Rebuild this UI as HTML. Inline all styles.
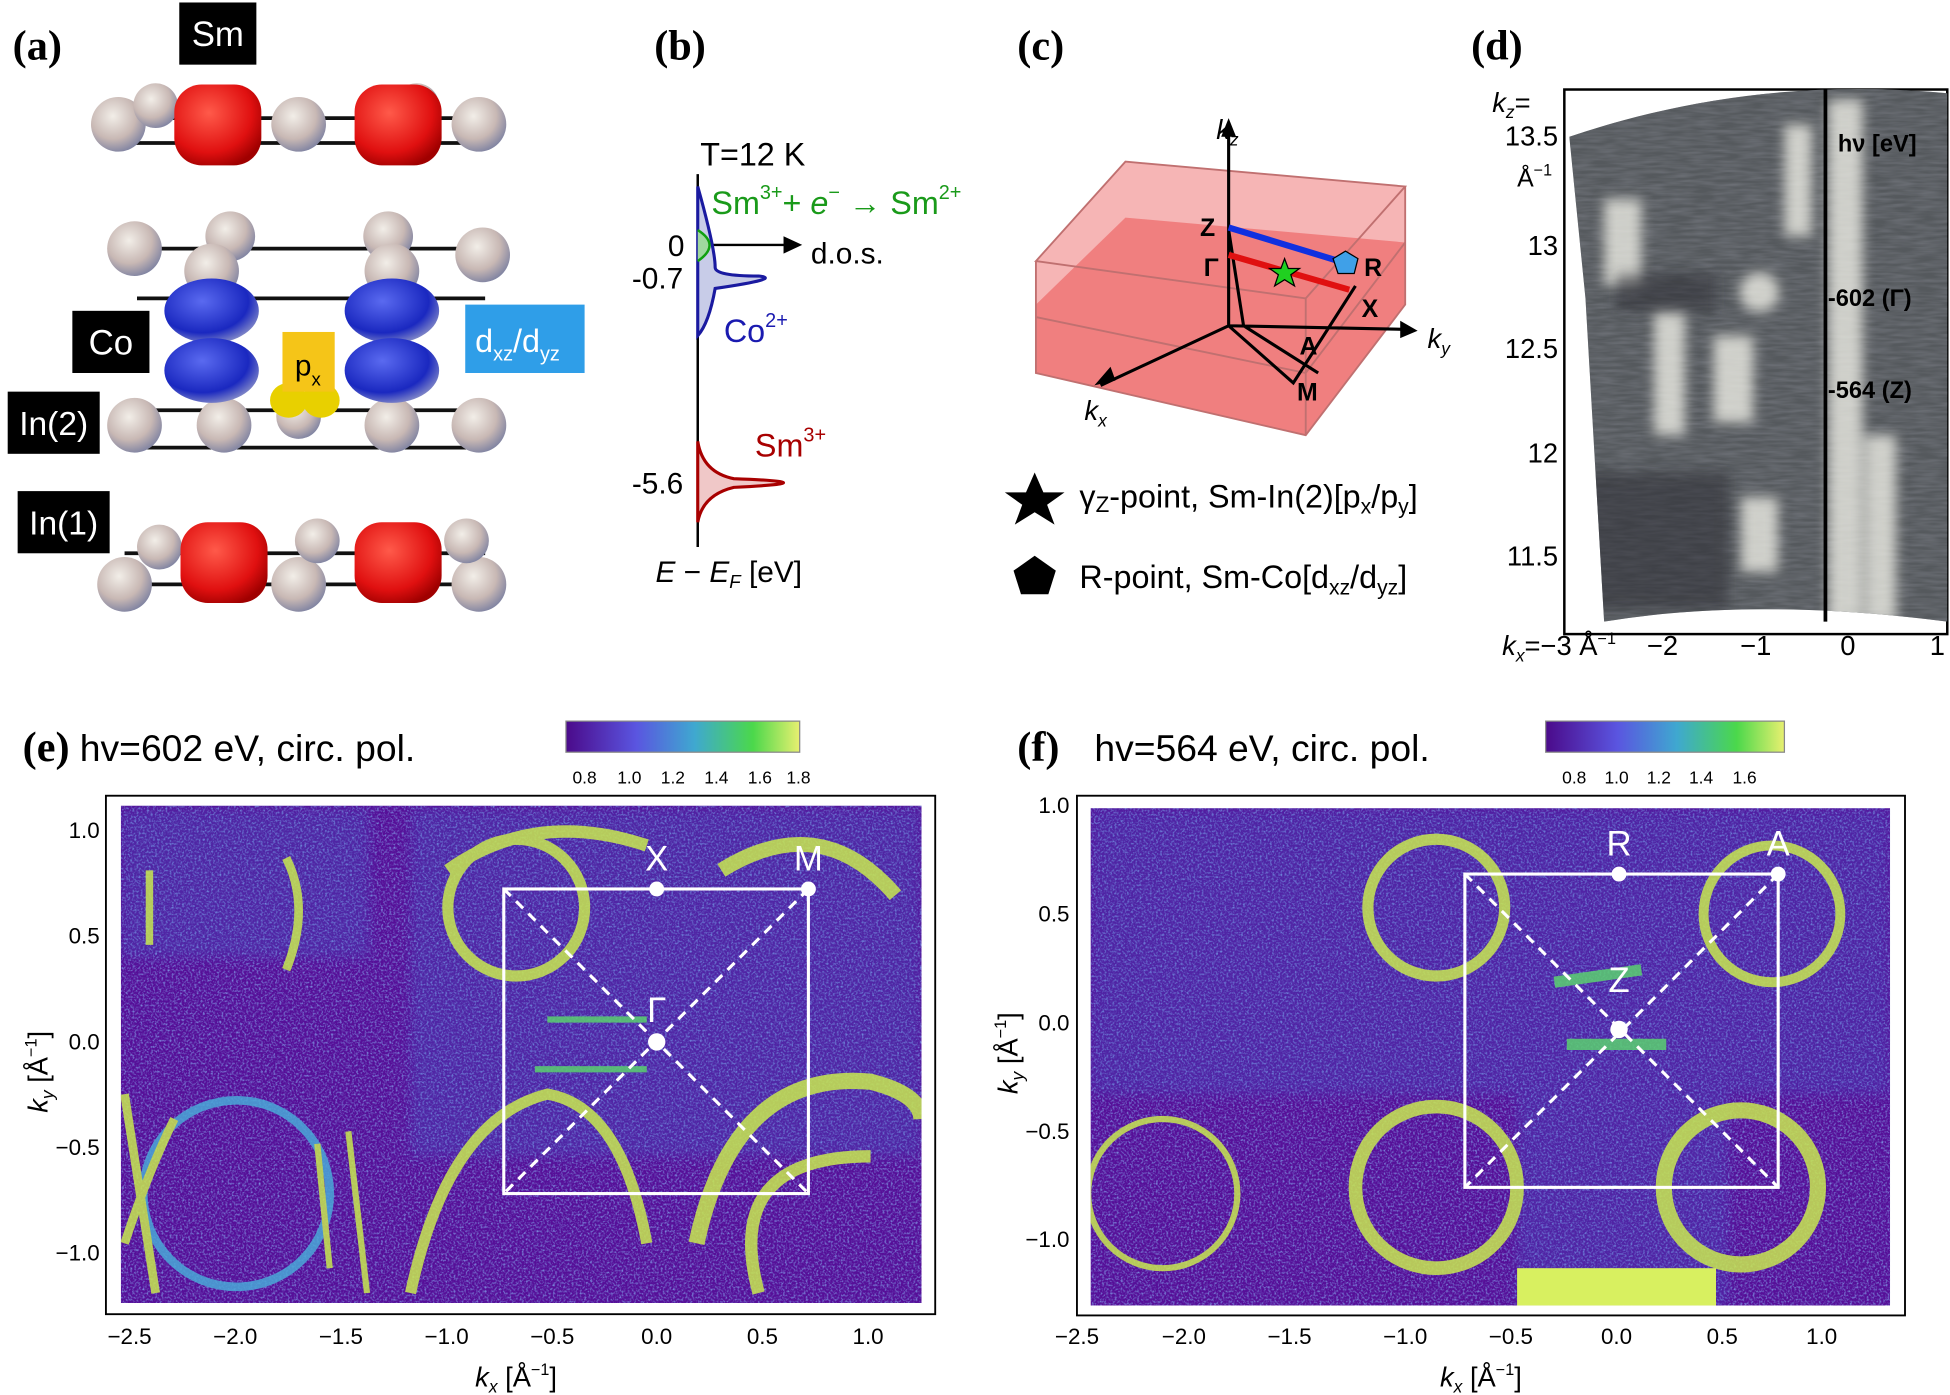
<!DOCTYPE html>
<html><head><meta charset="utf-8"><style>
html,body{margin:0;padding:0;background:#fff}
svg{display:block}
text{font-family:"Liberation Sans",sans-serif}
</style></head><body>
<svg width="1950" height="1395" viewBox="0 0 1568 1122" xmlns="http://www.w3.org/2000/svg">
<defs>
<filter id="noise" x="0" y="0" width="100%" height="100%">
<feTurbulence type="fractalNoise" baseFrequency="0.6" numOctaves="2" seed="3"/>
<feColorMatrix values="0 0 0 0 0.25  0 0 0 0 0.45  0 0 0 0 0.9  0 0 0 1.8 -0.8"/>
</filter>
<filter id="blur" x="-20%" y="-20%" width="140%" height="140%"><feGaussianBlur stdDeviation="5"/></filter>
<filter id="gnoise" x="0" y="0" width="100%" height="100%">
<feTurbulence type="fractalNoise" baseFrequency="0.05 0.4" numOctaves="2" seed="7"/>
<feColorMatrix values="0 0 0 0 0.15 0 0 0 0 0.16 0 0 0 0 0.18 0 0 0 1.6 -0.45"/>
</filter>
<clipPath id="dclip"><path d="M1262 110 Q1410 60 1566 75 L1566 500 Q1410 480 1290 500 L1275 240Z"/></clipPath>
<linearGradient id="cb" x1="0" x2="1"><stop offset="0" stop-color="#4b0a8a"/><stop offset=".3" stop-color="#5a55e0"/><stop offset=".55" stop-color="#3fa8d0"/><stop offset=".8" stop-color="#4bd84b"/><stop offset="1" stop-color="#e8f070"/></linearGradient>
<radialGradient id="ball" cx=".4" cy=".35" r=".7"><stop offset="0" stop-color="#f2eee8"/><stop offset=".6" stop-color="#c8b8b4"/><stop offset="1" stop-color="#7a7fa0"/></radialGradient>
<radialGradient id="red" cx=".4" cy=".35" r=".7"><stop offset="0" stop-color="#ff5a4a"/><stop offset=".7" stop-color="#e01010"/><stop offset="1" stop-color="#a00000"/></radialGradient>
<radialGradient id="blue" cx=".4" cy=".35" r=".7"><stop offset="0" stop-color="#5a6af0"/><stop offset=".7" stop-color="#1a28c0"/><stop offset="1" stop-color="#8a90c8"/></radialGradient>
</defs>

<g font-size="34" font-weight="bold">
<text x="10" y="48" style="font-family:'Liberation Serif'">(a)</text>
<text x="526" y="48" style="font-family:'Liberation Serif'">(b)</text>
<text x="818" y="48" style="font-family:'Liberation Serif'">(c)</text>
<text x="1183" y="48" style="font-family:'Liberation Serif'">(d)</text>
<text x="18" y="612" style="font-family:'Liberation Serif'">(e)</text>
<text x="818" y="612" style="font-family:'Liberation Serif'">(f)</text>
</g>

<!-- (a) -->
<g stroke="#111" stroke-width="3" fill="none">
<path d="M95 95 L395 95 M95 115 L395 115"/>
<path d="M110 200 L390 200 M110 240 L390 240 M110 330 L390 330 M110 360 L390 360 M100 445 L390 445 M110 470 L390 470"/>
</g>
<g fill="url(#ball)">
<circle cx="95" cy="100" r="22"/><circle cx="385" cy="100" r="22"/><circle cx="240" cy="100" r="22"/><circle cx="125" cy="85" r="18"/><circle cx="335" cy="85" r="18"/>
<circle cx="108" cy="200" r="22"/><circle cx="185" cy="190" r="20"/><circle cx="312" cy="190" r="20"/><circle cx="388" cy="205" r="22"/><circle cx="170" cy="218" r="22"/><circle cx="315" cy="218" r="22"/>
<circle cx="108" cy="342" r="22"/><circle cx="180" cy="342" r="22"/><circle cx="315" cy="342" r="22"/><circle cx="385" cy="342" r="22"/><circle cx="240" cy="335" r="18"/>
<circle cx="100" cy="470" r="22"/><circle cx="240" cy="470" r="22"/><circle cx="385" cy="470" r="22"/><circle cx="128" cy="440" r="18"/><circle cx="255" cy="435" r="18"/><circle cx="375" cy="435" r="18"/>
</g>
<g fill="url(#red)">
<rect x="140" y="68" width="70" height="65" rx="22"/><rect x="285" y="68" width="70" height="65" rx="22"/>
<rect x="145" y="420" width="70" height="65" rx="22"/><rect x="285" y="420" width="70" height="65" rx="22"/>
</g>
<g fill="url(#blue)">
<ellipse cx="170" cy="250" rx="38" ry="26"/><ellipse cx="170" cy="298" rx="38" ry="26"/>
<ellipse cx="315" cy="250" rx="38" ry="26"/><ellipse cx="315" cy="298" rx="38" ry="26"/>
</g>
<ellipse cx="232" cy="322" rx="15" ry="14" fill="#e8d000"/><ellipse cx="258" cy="322" rx="15" ry="14" fill="#e8d000"/>
<rect x="144" y="2" width="62" height="50" fill="#000"/><text x="175" y="37" fill="#fff" font-size="28" text-anchor="middle">Sm</text>
<rect x="58" y="250" width="62" height="50" fill="#000"/><text x="89" y="285" fill="#fff" font-size="28" text-anchor="middle">Co</text>
<rect x="6" y="315" width="74" height="50" fill="#000"/><text x="43" y="350" fill="#fff" font-size="27" text-anchor="middle">In(2)</text>
<rect x="14" y="395" width="74" height="50" fill="#000"/><text x="51" y="430" fill="#fff" font-size="27" text-anchor="middle">In(1)</text>
<rect x="227" y="267" width="42" height="48" fill="#f5c518"/><text x="237" y="302" font-size="24">p<tspan font-size="15" dy="8">x</tspan></text>
<rect x="374" y="245" width="96" height="55" fill="#2f9ee8"/><text x="382" y="283" fill="#fff" font-size="26">d<tspan font-size="16" dy="7">xz</tspan><tspan dy="-7">/d</tspan><tspan font-size="16" dy="7">yz</tspan></text>

<!-- (b) -->
<text x="563" y="133" font-size="26">T=12 K</text>
<line x1="561" y1="140" x2="561" y2="440" stroke="#000" stroke-width="2"/>
<line x1="561" y1="197" x2="635" y2="197" stroke="#000" stroke-width="2"/><path d="M645 197 L630 190 L630 204Z"/>
<path d="M561 150 Q575 200 575 215 Q575 222 610 222 Q630 224 575 232 Q570 260 561 270Z" fill="#c8cce8" stroke="#1a1aa0" stroke-width="2.5"/>
<path d="M561 185 Q580 197 561 210" fill="#9fd89f" stroke="#10a010" stroke-width="2"/>
<path d="M561 355 Q565 380 590 385 Q670 388 590 392 Q565 398 561 420Z" fill="#f0c8c8" stroke="#a80000" stroke-width="2.5"/>
<text x="572" y="172" font-size="26" fill="#1a9a1a">Sm<tspan font-size="16" dy="-12">3+</tspan><tspan dy="12">+ </tspan><tspan font-style="italic">e</tspan><tspan font-size="16" dy="-12">−</tspan><tspan dy="12"> → Sm</tspan><tspan font-size="16" dy="-12">2+</tspan></text>
<text x="537" y="206" font-size="24">0</text><text x="508" y="232" font-size="24">-0.7</text>
<text x="652" y="212" font-size="24">d.o.s.</text>
<text x="582" y="275" font-size="26" fill="#1a1ab0">Co<tspan font-size="16" dy="-12">2+</tspan></text>
<text x="607" y="367" font-size="26" fill="#a80000">Sm<tspan font-size="16" dy="-12">3+</tspan></text>
<text x="508" y="397" font-size="24">-5.6</text>
<text x="527" y="468" font-size="24"><tspan font-style="italic">E</tspan> − <tspan font-style="italic">E<tspan font-size="15" dy="5">F</tspan></tspan><tspan dy="-5"> [eV]</tspan></text>

<!-- (c) -->
<path d="M833 210 L905 130 L1130 150 L1130 245 L1050 350 L833 300Z" fill="#f5a8a8" opacity=".85"/>
<path d="M833 245 L905 175 L1130 195 L1130 245 L1050 350 L833 300Z" fill="#ee6868" opacity=".7"/>
<g stroke="#c07070" stroke-width="1.5" fill="none"><path d="M833 210 L905 130 L1130 150 L1050 240 L833 210Z M1050 240 L1050 350 M833 210 L833 300 L1050 350 L1130 245 L1130 150 M833 255 L1050 300 L1130 195"/></g>
<g stroke="#000" stroke-width="2.5" fill="none"><path d="M988 100 L988 262 M988 262 L1135 265 M988 262 L885 310 M988 185 L1000 262 L1060 300 L1000 262 M988 262 L1040 308 L1090 230"/></g>
<path d="M880 310 L893 295 L897 306Z M1140 266 L1126 258 L1126 272Z M988 95 L982 110 L994 110Z"/>
<line x1="988" y1="183" x2="1080" y2="211" stroke="#1030e0" stroke-width="5"/>
<line x1="988" y1="205" x2="1085" y2="233" stroke="#e01010" stroke-width="5"/>
<polygon points="1033,208 1036,216 1045,216 1038,221 1041,230 1033,225 1025,230 1028,221 1021,216 1030,216" fill="#20d020" stroke="#000"/>
<polygon points="1082,202 1092,208 1089,220 1076,220 1072,208" fill="#3fa0e8" stroke="#000"/>
<g font-size="20" font-weight="bold"><text x="965" y="190">Z</text><text x="968" y="222">Γ</text><text x="1097" y="222">R</text><text x="1095" y="255">X</text><text x="1045" y="285">A</text><text x="1043" y="322">M</text></g>
<text x="978" y="112" font-size="22" font-style="italic">k<tspan font-size="14" dy="5">z</tspan></text>
<text x="1148" y="280" font-size="22" font-style="italic">k<tspan font-size="14" dy="5">y</tspan></text>
<text x="872" y="338" font-size="22" font-style="italic">k<tspan font-size="14" dy="5">x</tspan></text>
<polygon points="832,380 839,396 856,396 842,406 848,422 832,412 816,422 822,406 808,396 825,396"/>
<text x="868" y="408" font-size="26">γ<tspan font-size="18" dy="4">Z</tspan><tspan dy="-4">-point, Sm-In(2)[p</tspan><tspan font-size="17" dy="5">x</tspan><tspan dy="-5">/p</tspan><tspan font-size="17" dy="5">y</tspan><tspan dy="-5">]</tspan></text>
<polygon points="832,447 849,459 843,478 821,478 815,459"/>
<text x="868" y="473" font-size="26">R-point, Sm-Co[d<tspan font-size="17" dy="5">xz</tspan><tspan dy="-5">/d</tspan><tspan font-size="17" dy="5">yz</tspan><tspan dy="-5">]</tspan></text>

<!-- (d) -->
<rect x="1258" y="72" width="308" height="438" fill="none" stroke="#000" stroke-width="2"/>
<g clip-path="url(#dclip)">
<rect x="1258" y="60" width="310" height="450" fill="#55595d"/>
<rect x="1258" y="60" width="310" height="450" filter="url(#gnoise)"/>
<g fill="#ecece4" opacity=".8" filter="url(#blur)">
<rect x="1470" y="80" width="28" height="420"/><rect x="1500" y="350" width="25" height="150"/><rect x="1435" y="100" width="22" height="90"/><ellipse cx="1415" cy="235" rx="16" ry="16"/><rect x="1378" y="270" width="32" height="70"/><rect x="1330" y="250" width="25" height="100"/><rect x="1290" y="160" width="30" height="70"/><rect x="1400" y="400" width="30" height="60"/>
</g>
<g fill="#2a2c30" opacity=".5" filter="url(#blur)"><rect x="1270" y="380" width="120" height="110"/><rect x="1300" y="220" width="80" height="30"/></g>
</g>
<line x1="1468" y1="72" x2="1468" y2="500" stroke="#000" stroke-width="3"/>
<text x="1478" y="122" font-size="19" font-weight="bold">hν [eV]</text>
<text x="1470" y="246" font-size="19" font-weight="bold">-602 (Γ)</text>
<text x="1470" y="320" font-size="19" font-weight="bold">-564 (Z)</text>
<g font-size="22" text-anchor="end"><text x="1253" y="117">13.5</text><text x="1253" y="205">13</text><text x="1253" y="288">12.5</text><text x="1253" y="372">12</text><text x="1253" y="455">11.5</text></g>
<text x="1200" y="90" font-size="22" font-style="italic">k<tspan font-size="14" dy="5">z</tspan><tspan dy="-5" font-style="normal">=</tspan></text>
<text x="1220" y="150" font-size="20">Å<tspan font-size="13" dy="-9">−1</tspan></text>
<text x="1208" y="527" font-size="22"><tspan font-style="italic">k<tspan font-size="14" dy="5">x</tspan></tspan><tspan dy="-5">=−3 Å</tspan><tspan font-size="13" dy="-9">−1</tspan></text>
<g font-size="22" text-anchor="middle"><text x="1337" y="527">−2</text><text x="1412" y="527">−1</text><text x="1486" y="527">0</text><text x="1558" y="527">1</text></g>

<!-- (e) -->
<text x="64" y="612" font-size="30">hv=602 eV, circ. pol.</text>
<rect x="455" y="580" width="188" height="25" fill="url(#cb)" stroke="#888"/>
<g font-size="14" text-anchor="middle"><text x="470" y="630">0.8</text><text x="506" y="630">1.0</text><text x="541" y="630">1.2</text><text x="576" y="630">1.4</text><text x="611" y="630">1.6</text><text x="642" y="630">1.8</text></g>
<rect x="85" y="640" width="667" height="417" fill="#fff" stroke="#000" stroke-width="1.5"/>
<svg x="97" y="648" width="644" height="400" viewBox="97 648 644 400">
<rect x="97" y="648" width="644" height="400" fill="#560f98"/>
<rect x="97" y="648" width="644" height="400" filter="url(#noise)"/>
<g fill="#3a80d8" opacity=".2" filter="url(#blur)"><rect x="330" y="650" width="411" height="280"/><rect x="97" y="650" width="200" height="120"/></g>
<g fill="none" stroke="#c8e850" stroke-width="10" opacity=".85">
<circle cx="415" cy="730" r="55" stroke-width="9"/><path d="M360 700 Q430 650 520 680"/>
<path d="M580 700 Q660 650 720 720" stroke-width="12"/>
<circle cx="190" cy="960" r="75" stroke="#4aa8d8" stroke-width="7"/>
<path d="M330 1040 Q360 900 440 880 Q500 890 520 1000" stroke-width="9"/>
<path d="M560 1000 Q590 860 700 870 Q740 880 741 900" stroke-width="13"/>
<path d="M610 1040 Q580 930 700 930"/>
<path d="M100 1000 Q120 940 140 900 M100 880 L125 1040" stroke-width="7"/>
<path d="M120 700 L120 760" stroke-width="6"/><path d="M230 690 Q250 730 230 780" stroke-width="7"/>
<path d="M280 910 L295 1040 M255 920 L265 1020" stroke-width="5"/>
<path d="M440 820 L520 820 M430 860 L520 860" stroke-width="5" stroke="#5ad070"/>
</g>
</svg>
<g stroke="#fff" stroke-width="2.5" fill="none"><rect x="405" y="715" width="245" height="245"/><path d="M405 715 L650 960 M650 715 L405 960" stroke-dasharray="8 6"/></g>
<g fill="#fff"><circle cx="528" cy="715" r="6"/><circle cx="650" cy="715" r="6"/><circle cx="528" cy="838" r="7"/></g>
<g fill="#fff" font-size="28" text-anchor="middle"><text x="528" y="700">X</text><text x="650" y="700">M</text><text x="528" y="822">Γ</text></g>
<g font-size="18" text-anchor="middle"><text x="104" y="1081">−2.5</text><text x="189" y="1081">−2.0</text><text x="274" y="1081">−1.5</text><text x="359" y="1081">−1.0</text><text x="444" y="1081">−0.5</text><text x="528" y="1081">0.0</text><text x="613" y="1081">0.5</text><text x="698" y="1081">1.0</text></g>
<g font-size="18" text-anchor="end"><text x="80" y="674">1.0</text><text x="80" y="759">0.5</text><text x="80" y="844">0.0</text><text x="80" y="929">−0.5</text><text x="80" y="1014">−1.0</text></g>
<text x="382" y="1115" font-size="22"><tspan font-style="italic">k<tspan font-size="14" dy="5">x</tspan></tspan><tspan dy="-5"> [Å</tspan><tspan font-size="13" dy="-9">−1</tspan><tspan dy="9">]</tspan></text>
<text transform="translate(38 895) rotate(-90)" font-size="22"><tspan font-style="italic">k<tspan font-size="14" dy="5">y</tspan></tspan><tspan dy="-5"> [Å</tspan><tspan font-size="13" dy="-9">−1</tspan><tspan dy="9">]</tspan></text>

<!-- (f) -->
<text x="880" y="612" font-size="30">hv=564 eV, circ. pol.</text>
<rect x="1243" y="580" width="192" height="25" fill="url(#cb)" stroke="#888"/>
<g font-size="14" text-anchor="middle"><text x="1266" y="630">0.8</text><text x="1300" y="630">1.0</text><text x="1334" y="630">1.2</text><text x="1368" y="630">1.4</text><text x="1403" y="630">1.6</text></g>
<rect x="866" y="640" width="666" height="418" fill="#fff" stroke="#000" stroke-width="1.5"/>
<svg x="877" y="650" width="643" height="400" viewBox="877 650 643 400">
<rect x="877" y="650" width="643" height="400" fill="#560f98"/>
<rect x="877" y="650" width="643" height="400" filter="url(#noise)"/>
<g fill="#3a78d8" opacity=".2" filter="url(#blur)"><rect x="877" y="650" width="643" height="230"/><rect x="1220" y="880" width="170" height="170"/></g>
<g fill="none" stroke="#c8e850" stroke-width="10" opacity=".85">
<circle cx="1155" cy="730" r="55" stroke-width="9"/><circle cx="1425" cy="735" r="55" stroke-width="8"/>
<circle cx="1155" cy="955" r="65" stroke-width="11"/><circle cx="1400" cy="955" r="62" stroke-width="13"/>
<circle cx="935" cy="960" r="60" stroke-width="5"/>
<path d="M1260 840 L1340 840 M1250 790 L1320 780" stroke-width="9" stroke="#5ad070"/>
</g>
<rect x="1220" y="1020" width="160" height="30" fill="#d8f060"/>
</svg>
<g stroke="#fff" stroke-width="2.5" fill="none"><rect x="1178" y="703" width="252" height="252"/><path d="M1178 703 L1430 955 M1430 703 L1178 955" stroke-dasharray="8 6"/></g>
<g fill="#fff"><circle cx="1302" cy="703" r="6"/><circle cx="1430" cy="703" r="6"/><circle cx="1302" cy="828" r="7"/></g>
<g fill="#fff" font-size="28" text-anchor="middle"><text x="1302" y="688">R</text><text x="1430" y="688">A</text><text x="1302" y="798">Z</text></g>
<g font-size="18" text-anchor="middle"><text x="866" y="1081">−2.5</text><text x="952" y="1081">−2.0</text><text x="1037" y="1081">−1.5</text><text x="1130" y="1081">−1.0</text><text x="1215" y="1081">−0.5</text><text x="1300" y="1081">0.0</text><text x="1385" y="1081">0.5</text><text x="1465" y="1081">1.0</text></g>
<g font-size="18" text-anchor="end"><text x="860" y="654">1.0</text><text x="860" y="741">0.5</text><text x="860" y="829">0.0</text><text x="860" y="916">−0.5</text><text x="860" y="1003">−1.0</text></g>
<text x="1158" y="1115" font-size="22"><tspan font-style="italic">k<tspan font-size="14" dy="5">x</tspan></tspan><tspan dy="-5"> [Å</tspan><tspan font-size="13" dy="-9">−1</tspan><tspan dy="9">]</tspan></text>
<text transform="translate(818 880) rotate(-90)" font-size="22"><tspan font-style="italic">k<tspan font-size="14" dy="5">y</tspan></tspan><tspan dy="-5"> [Å</tspan><tspan font-size="13" dy="-9">−1</tspan><tspan dy="9">]</tspan></text>
</svg>
</body></html>
